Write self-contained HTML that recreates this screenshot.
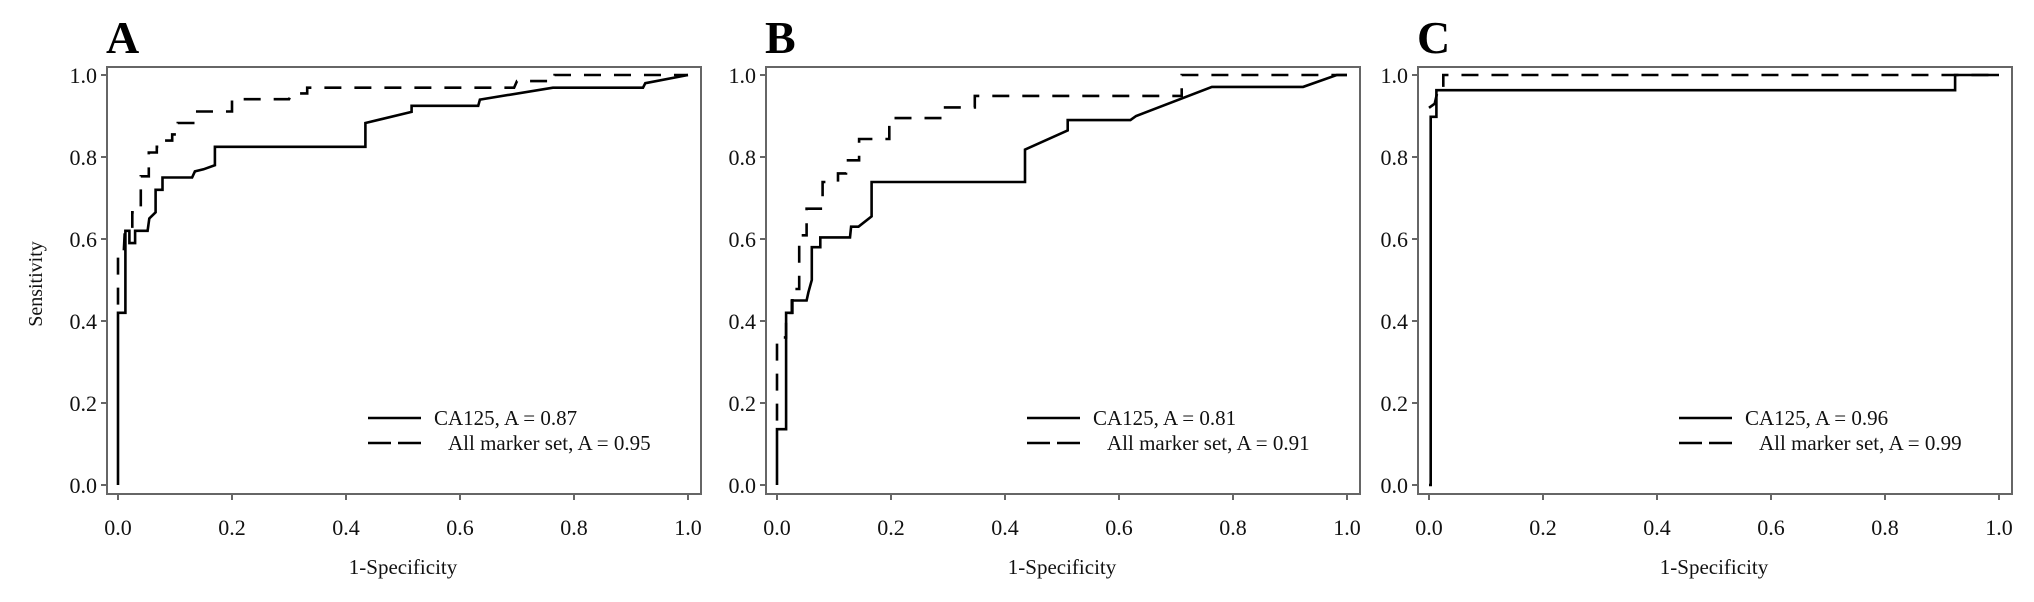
<!DOCTYPE html>
<html><head><meta charset="utf-8"><style>
html,body{margin:0;padding:0;background:#fff;}
svg{display:block;font-family:"Liberation Serif",serif;}
</style></head><body>
<svg id="fig" width="2034" height="602" viewBox="0 0 2034 602" xmlns="http://www.w3.org/2000/svg"></svg>
<script>
const panels = ["A","B","C"];
const panelX0 = [118, 777, 1429];
const ticks = [0, 0.2, 0.4, 0.6, 0.8, 1.0];
const tickLabels = ["0.0","0.2","0.4","0.6","0.8","1.0"];
const ca125Labels = ["CA125, A = 0.87","CA125, A = 0.81","CA125, A = 0.96"];
const allLabels = ["All marker set, A = 0.95","All marker set, A = 0.91","All marker set, A = 0.99"];
const caA = [[0,0],[0,0.42],[0.013,0.42],[0.013,0.62],[0.02,0.62],[0.02,0.59],[0.03,0.59],[0.03,0.62],[0.052,0.62],[0.055,0.65],[0.066,0.665],[0.066,0.72],[0.078,0.72],[0.078,0.75],[0.13,0.75],[0.135,0.765],[0.15,0.77],[0.17,0.78],[0.17,0.825],[0.434,0.825],[0.434,0.883],[0.515,0.91],[0.515,0.925],[0.632,0.925],[0.635,0.94],[0.763,0.969],[0.921,0.969],[0.925,0.98],[1,1]];
const allA = [[0,0.44],[0,0.565],[0.01,0.565],[0.012,0.62],[0.025,0.62],[0.025,0.665],[0.04,0.665],[0.04,0.753],[0.054,0.753],[0.054,0.811],[0.068,0.811],[0.068,0.825],[0.078,0.825],[0.078,0.84],[0.095,0.84],[0.095,0.855],[0.105,0.855],[0.105,0.883],[0.132,0.883],[0.132,0.911],[0.2,0.911],[0.2,0.941],[0.3,0.941],[0.305,0.955],[0.332,0.955],[0.332,0.969],[0.695,0.969],[0.7,0.985],[0.766,0.985],[0.766,1],[1,1]];
const caB = [[0,0],[0,0.136],[0.016,0.136],[0.016,0.42],[0.026,0.42],[0.026,0.45],[0.052,0.45],[0.055,0.47],[0.061,0.5],[0.061,0.58],[0.076,0.58],[0.076,0.604],[0.128,0.604],[0.13,0.63],[0.143,0.63],[0.166,0.655],[0.166,0.739],[0.435,0.739],[0.435,0.818],[0.51,0.865],[0.51,0.89],[0.62,0.89],[0.63,0.9],[0.763,0.971],[0.923,0.971],[0.982,1],[1,1]];
const allB = [[0,0.157],[0,0.36],[0.016,0.36],[0.016,0.42],[0.027,0.42],[0.027,0.478],[0.039,0.478],[0.039,0.609],[0.052,0.609],[0.052,0.674],[0.08,0.674],[0.08,0.739],[0.107,0.739],[0.107,0.76],[0.121,0.76],[0.121,0.792],[0.144,0.792],[0.144,0.844],[0.197,0.844],[0.197,0.895],[0.291,0.895],[0.291,0.921],[0.347,0.921],[0.347,0.949],[0.71,0.949],[0.71,1],[1,1]];
const caC = [[0,0],[0.003,0],[0.003,0.898],[0.013,0.898],[0.013,0.963],[0.923,0.963],[0.923,1],[1,1]];
const allC = [[0,0.92],[0.01,0.93],[0.015,0.96],[0.025,0.96],[0.025,1],[1,1]];
const caSeries = [caA, caB, caC];
const allSeries = [allA, allB, allC];

const NS = "http://www.w3.org/2000/svg";
const svg = document.getElementById("fig");
const UX = 570, Y0 = 485, UY = 410;
function mk(tag, attrs, parent){const e=document.createElementNS(NS,tag);for(const k in attrs)e.setAttribute(k,attrs[k]);(parent||svg).appendChild(e);return e;}

panels.forEach((p,i)=>{
  const x0 = panelX0[i];
  const sx = v => x0 + v*UX;
  const sy = v => Y0 - v*UY;
  const g = mk("g",{});
  
  
  const letter = mk("text",{x:x0-12,y:53,"font-size":46,"font-weight":"bold",fill:"#000"},g);
  letter.textContent = p;
  
  
  const box = mk("rect",{x:x0-11,y:67,width:UX+24,height:427,fill:"none",stroke:"#666","stroke-width":2},g);
  
  
  ticks.forEach((t,j)=>{
    mk("line",{x1:x0-11,x2:x0-17,y1:sy(t),y2:sy(t),stroke:"#666","stroke-width":2},g);
    const yl = mk("text",{x:x0-21,y:sy(t)+8,"font-size":22,"text-anchor":"end",fill:"#111"},g);
    yl.textContent = tickLabels[j];
    
    
    mk("line",{x1:sx(t),x2:sx(t),y1:494,y2:500,stroke:"#666","stroke-width":2},g);
    const xl = mk("text",{x:sx(t),y:535,"font-size":22,"text-anchor":"middle",fill:"#111"},g);
    xl.textContent = tickLabels[j];
    
    
  });
  const xt = mk("text",{x:sx(0.5),y:574,"font-size":21,"text-anchor":"middle",fill:"#111"},g);
  xt.textContent = "1-Specificity";
  
  
  const pts = s => s.map(d=>sx(d[0]).toFixed(1)+","+sy(d[1]).toFixed(1)).join(" ");
  const l1 = mk("polyline",{points:pts(caSeries[i]),fill:"none",stroke:"#000","stroke-width":2.6},g);
  
  
  const l2 = mk("polyline",{points:pts(allSeries[i]),fill:"none",stroke:"#000","stroke-width":2.6,"stroke-dasharray":"17 13"},g);
  
  
  const lg = mk("g",{},g);
  
  
  mk("line",{x1:x0+250,x2:x0+303,y1:418,y2:418,stroke:"#000","stroke-width":2.6},lg);
  mk("line",{x1:x0+250,x2:x0+303,y1:443,y2:443,stroke:"#000","stroke-width":2.6,"stroke-dasharray":"23 7"},lg);
  const t1 = mk("text",{x:x0+316,y:425,"font-size":21,fill:"#111"},lg);
  t1.textContent = ca125Labels[i];
  
  
  const t2 = mk("text",{x:x0+330,y:450,"font-size":21,fill:"#111"},lg);
  t2.textContent = allLabels[i];
  
  
});
const yt = mk("text",{x:0,y:0,"font-size":20,"text-anchor":"middle",fill:"#111",transform:"translate(42,284) rotate(-90)"});
yt.textContent = "Sensitivity";


</script>
</body></html>
